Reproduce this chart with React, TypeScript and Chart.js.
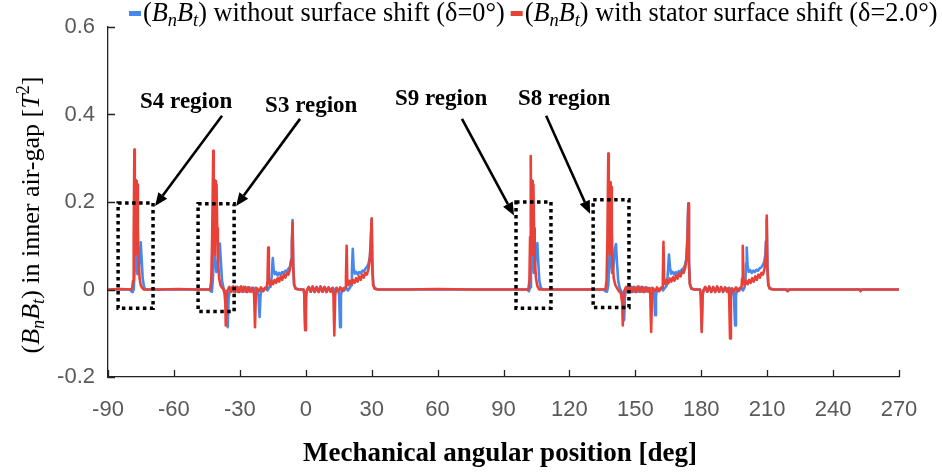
import { useEffect, useRef } from "react";
import { Chart, registerables } from "chart.js";

Chart.register(...registerables);

// Mechanical angle [deg] and (Bn·Bt) [T^2] samples, stator surface shifted (δ = 2.0°)
const shiftedSeries: [number, number][] = [
  [-90, 0], [-84, 0.001], [-80, 0], [-79, 0.002], [-78.6, 0.02], [-78.3, 0.12], [-78.0, 0.32], [-77.8, 0.1],
  [-77.5, 0.25], [-77.3, 0.08], [-77.1, 0.248], [-76.9, 0.12], [-76.7, 0.24], [-76.4, 0.14], [-76.1, 0.07],
  [-75.6, 0.025], [-75.1, 0.01], [-74.5, 0.004], [-73.8, 0],
  [-66, 0], [-58, 0.001], [-50, 0], [-43.5, 0], [-43.0, 0.02], [-42.6, 0.12], [-42.1, 0.317], [-41.9, 0.1],
  [-41.6, 0.25], [-41.4, 0.08], [-41.1, 0.248], [-40.9, 0.12], [-40.6, 0.24], [-40.3, 0.14], [-40.0, 0.07],
  [-39.4, 0.025], [-38.8, 0.01], [-38.1, 0.004], [-37.6, 0.002],
  [-37.0, -0.008], [-36.6, -0.03], [-36.4, -0.082], [-36.1, -0.02], [-35.7, -0.003],
  [-34.8, 0.006], [-33.9, -0.005], [-33.0, 0.007], [-32.1, -0.006], [-31.2, 0.006], [-30.3, -0.006], [-29.4, 0.007],
  [-28.5, -0.005], [-27.6, 0.006], [-26.7, -0.006], [-25.8, 0.005], [-24.9, -0.005], [-24.1, 0.004], [-23.5, -0.012],
  [-23.1, -0.086], [-22.7, -0.012], [-22.2, 0.003], [-21.3, -0.004], [-20.4, 0.005], [-19.5, -0.004], [-18.6, 0.004],
  [-17.8, 0.002], [-17.4, 0.02], [-17.1, 0.096], [-16.8, 0.025], [-16.3, 0.01], [-15.6, 0.02], [-14.9, 0.012],
  [-14.2, 0.022], [-13.5, 0.015], [-12.8, 0.026], [-12.1, 0.018], [-11.4, 0.03], [-10.7, 0.022], [-10.0, 0.034],
  [-9.3, 0.027], [-8.6, 0.038], [-7.9, 0.034], [-7.2, 0.046], [-6.6, 0.065], [-6.3, 0.1], [-6.0, 0.153], [-5.7, 0.05],
  [-5.3, 0.01], [-4.6, 0.002], [-3, 0], [-1.0, 0], [-0.7, -0.01], [-0.3, -0.093], [0.1, -0.015], [0.5, -0.002],
  [1.3, 0.006], [2.2, -0.005], [3.1, 0.007], [4.0, -0.006], [4.9, 0.006], [5.8, -0.006], [6.7, 0.007], [7.6, -0.005],
  [8.5, 0.006], [9.4, -0.006], [10.3, 0.005], [11.2, -0.005], [12.0, 0.003], [12.6, -0.012], [13.0, -0.105],
  [13.4, -0.012], [13.9, 0.003], [14.8, -0.004], [15.7, 0.005], [16.6, -0.004], [17.5, 0.004], [18.0, 0.004],
  [18.3, 0.025], [18.6, 0.1], [18.9, 0.025], [19.4, 0.01], [20.1, 0.02], [20.8, 0.012], [21.5, 0.022], [22.2, 0.015],
  [22.9, 0.026], [23.6, 0.018], [24.3, 0.03], [25.0, 0.022], [25.7, 0.034], [26.4, 0.027], [27.1, 0.038], [27.8, 0.034],
  [28.5, 0.046], [29.1, 0.065], [29.5, 0.1], [30.0, 0.163], [30.3, 0.05], [30.7, 0.01], [31.4, 0.002], [33, 0],
  [45, 0], [60, 0.001], [75, 0], [90, 0], [101.3, 0], [101.8, 0.02], [102.1, 0.12], [102.4, 0.305], [102.6, 0.1],
  [102.8, 0.25], [103.0, 0.08], [103.2, 0.248], [103.4, 0.12], [103.6, 0.24], [103.9, 0.14], [104.2, 0.07],
  [104.8, 0.025], [105.4, 0.008], [106.3, 0],
  [120, 0], [136.4, 0], [136.9, 0.02], [137.3, 0.12], [137.7, 0.311], [137.9, 0.1], [138.2, 0.245], [138.4, 0.08],
  [138.6, 0.245], [138.8, 0.12], [139.0, 0.235], [139.3, 0.14], [139.6, 0.07], [140.2, 0.025], [140.9, 0.01],
  [141.8, 0.002], [142.6, -0.004], [143.4, -0.008],
  [144.0, -0.03], [144.3, -0.082], [144.6, -0.02], [145.0, -0.003],
  [145.8, 0.006], [146.7, -0.005], [147.6, 0.007], [148.5, -0.006], [149.4, 0.006], [150.3, -0.006], [151.2, 0.007],
  [152.1, -0.005], [153.0, 0.006], [153.9, -0.006], [154.8, 0.005], [155.7, -0.005], [156.4, 0.003], [156.8, -0.012],
  [157.2, -0.097], [157.6, -0.012], [158.1, 0.003], [159.0, -0.004], [159.9, 0.005], [160.8, -0.004], [161.7, 0.004],
  [162.2, 0.004], [162.5, 0.025], [162.8, 0.109], [163.1, 0.025], [163.6, 0.012], [164.3, 0.022], [165.0, 0.014],
  [165.7, 0.025], [166.4, 0.018], [167.1, 0.028], [167.8, 0.02], [168.5, 0.032], [169.2, 0.025], [169.9, 0.036],
  [170.6, 0.03], [171.3, 0.042], [172.0, 0.038], [172.7, 0.05], [173.3, 0.07], [173.7, 0.11], [174.1, 0.197],
  [174.4, 0.06], [174.8, 0.012], [175.5, 0.002], [177, 0], [179.4, 0], [179.8, -0.012], [180.2, -0.097],
  [180.6, -0.015], [181.0, -0.002],
  [181.8, 0.006], [182.7, -0.005], [183.6, 0.007], [184.5, -0.006], [185.4, 0.006], [186.3, -0.006], [187.2, 0.007],
  [188.1, -0.005], [189.0, 0.006], [189.9, -0.006], [190.8, 0.005], [191.7, -0.005], [192.3, 0.003], [192.7, -0.014],
  [193.1, -0.112], [193.5, -0.014], [194.0, 0.003], [194.9, -0.004], [195.8, 0.005], [196.7, -0.004], [197.6, 0.004],
  [198.3, 0.004], [198.6, 0.025], [198.9, 0.1], [199.2, 0.025], [199.7, 0.01], [200.4, 0.02], [201.1, 0.012],
  [201.8, 0.022], [202.5, 0.015], [203.2, 0.026], [203.9, 0.018], [204.6, 0.03], [205.3, 0.022], [206.0, 0.034],
  [206.7, 0.027], [207.4, 0.038], [208.1, 0.034], [208.8, 0.048], [209.3, 0.07], [209.5, 0.11], [209.8, 0.169],
  [210.1, 0.05], [210.5, 0.01], [211.2, 0.002], [213, 0], [218.5, 0], [219.3, -0.004], [220.2, 0], [240, 0],
  [252, 0], [252.5, -0.004], [253.2, 0], [270, 0],
];

// Same quantity without surface shift (δ = 0°)
const unshiftedSeries: [number, number][] = [
  [-90, 0], [-84, 0], [-80, 0], [-79.4, -0.004], [-78.8, -0.006], [-78.3, 0.0], [-77.9, 0.04], [-77.4, 0.119],
  [-77.0, 0.07], [-76.6, 0.035], [-76.0, 0.045], [-75.5, 0.08], [-75.1, 0.108], [-74.7, 0.07], [-74.2, 0.025],
  [-73.6, 0.006], [-73.0, 0],
  [-60, 0], [-44, 0], [-43.3, -0.004], [-42.7, -0.005], [-42.2, 0.03], [-41.6, 0.121], [-41.2, 0.07], [-40.7, 0.04],
  [-40.1, 0.05], [-39.6, 0.085], [-39.1, 0.105], [-38.7, 0.07], [-38.1, 0.02], [-37.4, 0.003], [-36.6, -0.006],
  [-36.0, -0.02], [-35.5, -0.086], [-35.1, -0.02], [-34.6, -0.003],
  [-33.7, 0.005], [-32.8, -0.005], [-31.9, 0.006], [-31.0, -0.005], [-30.1, 0.005], [-29.2, -0.005], [-28.3, 0.006],
  [-27.4, -0.005], [-26.5, 0.005], [-25.6, -0.005], [-24.7, 0.004], [-23.8, -0.004], [-22.9, 0.004], [-22.0, -0.004],
  [-21.5, -0.015], [-21.0, -0.063], [-20.6, -0.015], [-20.1, 0.002], [-19.2, -0.003], [-18.3, 0.004], [-17.4, -0.002],
  [-16.6, 0.005], [-16.0, 0.006], [-15.5, 0.03], [-15.0, 0.072], [-14.6, 0.045], [-14.1, 0.035], [-13.5, 0.04],
  [-12.8, 0.032], [-12.1, 0.038], [-11.4, 0.034], [-10.7, 0.04], [-10.0, 0.037], [-9.3, 0.043], [-8.6, 0.041],
  [-7.9, 0.048], [-7.2, 0.052], [-6.6, 0.07], [-6.3, 0.11], [-6.0, 0.159], [-5.7, 0.06], [-5.3, 0.012], [-4.6, 0.002],
  [-3, 0], [-1.0, 0], [-0.6, -0.01], [-0.2, -0.09], [0.2, -0.012], [0.6, -0.002],
  [1.5, 0.005], [2.4, -0.005], [3.3, 0.006], [4.2, -0.005], [5.1, 0.005], [6.0, -0.005], [6.9, 0.006], [7.8, -0.005],
  [8.7, 0.005], [9.6, -0.005], [10.5, 0.004], [11.4, -0.004], [12.3, 0.004], [13.2, -0.004], [14.1, 0.004],
  [14.9, -0.004], [15.2, -0.015], [15.6, -0.086], [16.0, -0.015], [16.5, 0.002], [17.4, -0.003], [18.3, 0.004],
  [19.2, -0.002], [20.1, 0.004], [20.6, 0.01], [21.0, 0.04], [21.4, 0.093], [21.8, 0.05], [22.3, 0.036], [23.0, 0.04],
  [23.7, 0.034], [24.4, 0.04], [25.1, 0.037], [25.8, 0.043], [26.5, 0.041], [27.2, 0.048], [27.9, 0.052], [28.6, 0.06],
  [29.2, 0.075], [29.6, 0.11], [30.0, 0.16], [30.3, 0.06], [30.7, 0.012], [31.4, 0.002], [33, 0],
  [60, 0], [90, 0], [100.8, 0], [101.6, -0.004], [102.1, 0.005], [102.5, 0.05], [102.9, 0.125], [103.3, 0.07],
  [103.8, 0.038], [104.3, 0.05], [104.9, 0.09], [105.4, 0.106], [105.8, 0.065], [106.3, 0.02], [107.0, 0.004], [108, 0],
  [125, 0], [135.6, 0], [136.4, -0.004], [137.1, -0.005], [137.7, 0.01], [138.1, 0.06], [138.5, 0.119], [138.9, 0.07],
  [139.4, 0.038], [140.0, 0.05], [140.6, 0.09], [141.2, 0.104], [141.6, 0.065], [142.2, 0.02], [142.9, 0.003],
  [143.8, -0.006], [144.4, -0.02], [144.9, -0.07], [145.3, -0.015], [145.8, -0.002],
  [146.6, 0.005], [147.5, -0.005], [148.4, 0.006], [149.3, -0.005], [150.2, 0.005], [151.1, -0.005], [152.0, 0.006],
  [152.9, -0.005], [153.8, 0.005], [154.7, -0.005], [155.6, 0.004], [156.5, -0.004], [157.4, 0.004], [158.2, -0.004],
  [158.6, -0.015], [159.0, -0.059], [159.4, -0.015], [159.9, 0.002], [160.8, -0.003], [161.7, 0.004], [162.6, -0.002],
  [163.5, 0.004], [164.2, 0.008], [164.7, 0.03], [165.3, 0.08], [165.8, 0.05], [166.3, 0.036], [167.0, 0.04],
  [167.7, 0.034], [168.4, 0.04], [169.1, 0.036], [169.8, 0.042], [170.5, 0.04], [171.2, 0.046], [171.9, 0.048],
  [172.6, 0.056], [173.2, 0.07], [173.7, 0.12], [174.1, 0.19], [174.4, 0.07], [174.8, 0.014], [175.5, 0.002], [177, 0],
  [179.4, 0], [179.8, -0.012], [180.2, -0.09], [180.6, -0.014], [181.0, -0.002],
  [181.9, 0.005], [182.8, -0.005], [183.7, 0.006], [184.6, -0.005], [185.5, 0.005], [186.4, -0.005], [187.3, 0.006],
  [188.2, -0.005], [189.1, 0.005], [190.0, -0.005], [190.9, 0.004], [191.8, -0.004], [192.7, 0.004], [193.6, -0.004],
  [194.5, -0.006], [194.9, -0.02], [195.4, -0.082], [195.8, -0.015], [196.3, 0.002], [197.2, -0.003], [198.1, 0.004],
  [199.0, -0.002], [199.7, 0.005], [200.1, 0.02], [200.4, 0.06], [200.7, 0.096], [201.1, 0.055], [201.6, 0.04],
  [202.3, 0.044], [203.0, 0.038], [203.7, 0.043], [204.4, 0.04], [205.1, 0.045], [205.8, 0.043], [206.5, 0.048],
  [207.2, 0.05], [207.9, 0.055], [208.6, 0.062], [209.2, 0.08], [209.5, 0.11], [209.8, 0.16], [210.1, 0.055],
  [210.5, 0.012], [211.2, 0.002], [213, 0], [240, 0], [270, 0],
];

// Slot regions: name, angular span [deg] and value span [T^2]
const regionNames = ["S4 region", "S3 region", "S9 region", "S8 region"];
const regionAngleSpans: [number, number][] = [[-85.4, -69.5], [-49, -32.6], [95.7, 111.6], [130.8, 147.1]];
const regionValueSpans: [number, number][] = [[-0.043, 0.198], [-0.05, 0.196], [-0.043, 0.2], [-0.041, 0.205]];

const X_MIN = -90;
const X_MAX = 270;
const X_STEP = 30;
const Y_MIN = -0.2;
const Y_MAX = 0.6;
const Y_STEP = 0.2;

const BLUE = "rgb(72, 136, 238)";
const RED = "rgb(232, 66, 56)";
const SERIF = '"Liberation Serif", "Times New Roman", serif';
const SANS = '"Liberation Sans", Arial, sans-serif';

type Seg = { t: string; it?: boolean; sub?: boolean; sup?: boolean };

const bnbt: Seg[] = [
  { t: "(" }, { t: "B", it: true }, { t: "n", it: true, sub: true },
  { t: "B", it: true }, { t: "t", it: true, sub: true }, { t: ")" },
];

function drawRich(ctx: CanvasRenderingContext2D, segs: Seg[], x: number, y: number, size: number, measureOnly = false) {
  let cx = x;
  for (const s of segs) {
    const small = s.sub || s.sup;
    const fs = small ? size * 0.7 : size;
    ctx.font = `${s.it ? "italic " : ""}${fs}px ${SERIF}`;
    const dy = s.sub ? size * 0.2 : s.sup ? -size * 0.38 : 0;
    if (!measureOnly) ctx.fillText(s.t, cx, y + dy);
    cx += ctx.measureText(s.t).width;
  }
  return cx - x;
}

// Label anchor, arrow tail and arrow head for each region, in axis units
const labelAnchors: [number, number][] = [[-75.4, 0.415], [-18.5, 0.406], [40.6, 0.422], [96.6, 0.422]];
const arrowTails: [number, number][] = [[-38.1, 0.397], [-2.6, 0.39], [71.1, 0.39], [109.4, 0.397]];
const arrowHeads: [number, number][] = [[-68.6, 0.191], [-31.7, 0.191], [94.8, 0.169], [129.4, 0.173]];

const decorations = {
  id: "decorations",
  afterDatasetsDraw(chart: any) {
    const { ctx, chartArea, scales } = chart;
    const xs = scales.x;
    const ys = scales.y;
    ctx.save();

    // inward tick marks
    ctx.strokeStyle = "#222";
    ctx.lineWidth = 1.3;
    ctx.beginPath();
    for (const t of xs.ticks) {
      const px = Math.round(xs.getPixelForValue(t.value)) + 0.5;
      ctx.moveTo(px, chartArea.bottom);
      ctx.lineTo(px, chartArea.bottom - 7);
    }
    for (const t of ys.ticks) {
      const py = Math.round(ys.getPixelForValue(t.value)) + 0.5;
      ctx.moveTo(chartArea.left, py);
      ctx.lineTo(chartArea.left + 7, py);
    }
    ctx.stroke();

    // dotted region boxes
    ctx.strokeStyle = "#000";
    ctx.lineWidth = 3.5;
    ctx.setLineDash([3.5, 3.5]);
    regionAngleSpans.forEach(([a0, a1], i) => {
      const [v0, v1] = regionValueSpans[i];
      const x0 = xs.getPixelForValue(a0);
      const x1 = xs.getPixelForValue(a1);
      const y0 = ys.getPixelForValue(v1);
      const y1 = ys.getPixelForValue(v0);
      ctx.strokeRect(x0, y0, x1 - x0, y1 - y0);
    });
    ctx.setLineDash([]);

    // arrows and region labels
    ctx.fillStyle = "#000";
    ctx.lineWidth = 2.6;
    arrowTails.forEach(([ta, tv], i) => {
      const [ha, hv] = arrowHeads[i];
      const x0 = xs.getPixelForValue(ta);
      const y0 = ys.getPixelForValue(tv);
      const x1 = xs.getPixelForValue(ha);
      const y1 = ys.getPixelForValue(hv);
      const ang = Math.atan2(y1 - y0, x1 - x0);
      const headLen = 13;
      const headHalf = 5.5;
      const bx = x1 - headLen * Math.cos(ang);
      const by = y1 - headLen * Math.sin(ang);
      ctx.beginPath();
      ctx.moveTo(x0, y0);
      ctx.lineTo(bx, by);
      ctx.stroke();
      ctx.beginPath();
      ctx.moveTo(x1, y1);
      ctx.lineTo(bx + headHalf * Math.sin(ang), by - headHalf * Math.cos(ang));
      ctx.lineTo(bx - headHalf * Math.sin(ang), by + headHalf * Math.cos(ang));
      ctx.closePath();
      ctx.fill();
    });
    ctx.font = `bold 23px ${SERIF}`;
    ctx.textBaseline = "alphabetic";
    ctx.textAlign = "left";
    labelAnchors.forEach(([a, v], i) => {
      ctx.fillText(regionNames[i], xs.getPixelForValue(a), ys.getPixelForValue(v));
    });
    ctx.restore();
  },
  afterDraw(chart: any) {
    const { ctx, chartArea } = chart;
    ctx.save();
    ctx.fillStyle = "#000";
    ctx.textBaseline = "alphabetic";
    ctx.textAlign = "left";

    // y-axis title, rotated
    const ySegs: Seg[] = [...bnbt, { t: " in inner air-gap [" }, { t: "T", it: true }, { t: "2", sup: true }, { t: "]" }];
    const yw = drawRich(ctx, ySegs, 0, 0, 26, true);
    ctx.save();
    ctx.translate(39, (chartArea.top + chartArea.bottom) / 2 + 13);
    ctx.rotate(-Math.PI / 2);
    drawRich(ctx, ySegs, -yw / 2, 0, 26);
    ctx.restore();

    // x-axis title
    ctx.font = `bold 27px ${SERIF}`;
    ctx.textAlign = "center";
    ctx.fillText("Mechanical angular position [deg]", 500, 461);
    ctx.textAlign = "left";

    // legend
    const legendY = 21;
    let lx = 129;
    const items: [string, string][] = [
      [BLUE, " without surface shift (δ=0°)"],
      [RED, " with stator surface shift (δ=2.0°)"],
    ];
    for (const [color, text] of items) {
      ctx.fillStyle = color;
      ctx.fillRect(lx, legendY - 10, 12, 5);
      lx += 14;
      ctx.fillStyle = "#000";
      lx += drawRich(ctx, [...bnbt, { t: text }], lx, legendY, 26.3);
      lx += 6;
    }
    ctx.restore();
  },
};

export default function App() {
  const canvasRef = useRef<HTMLCanvasElement>(null);

  useEffect(() => {
    const canvas = canvasRef.current;
    if (!canvas) return;
    const chart = new Chart(canvas, {
      type: "line",
      data: {
        datasets: [
          {
            label: "(BnBt) with stator surface shift (δ=2.0°)",
            data: shiftedSeries.map(([a, v]) => ({ x: a, y: v })),
            borderColor: RED,
            borderWidth: 2.6,
            pointRadius: 0,
            tension: 0,
            order: 1,
          },
          {
            label: "(BnBt) without surface shift (δ=0°)",
            data: unshiftedSeries.map(([a, v]) => ({ x: a, y: v })),
            borderColor: BLUE,
            borderWidth: 2.6,
            pointRadius: 0,
            tension: 0,
            order: 2,
          },
        ],
      },
      options: {
        responsive: false,
        animation: false,
        devicePixelRatio: 1,
        layout: { padding: { top: 27, right: 43, left: 0, bottom: 0 } },
        plugins: { legend: { display: false }, tooltip: { enabled: false }, title: { display: false } },
        elements: { line: { borderJoinStyle: "round", borderCapStyle: "round" } },
        scales: {
          x: {
            type: "linear",
            min: X_MIN,
            max: X_MAX,
            grid: { display: false, drawTicks: false },
            border: { display: true, color: "#222", width: 1.3 },
            ticks: {
              stepSize: X_STEP,
              autoSkip: false,
              maxRotation: 0,
              padding: 20,
              color: "#595959",
              font: { family: SANS, size: 22 },
            },
            afterFit: (s: any) => { s.height = 96; },
          },
          y: {
            type: "linear",
            min: Y_MIN,
            max: Y_MAX,
            grid: { display: false, drawTicks: false },
            border: { display: true, color: "#222", width: 1.3 },
            ticks: {
              stepSize: Y_STEP,
              padding: 13,
              color: "#595959",
              font: { family: SANS, size: 22 },
              callback: (v: any) => {
                const r = Math.round(Number(v) * 10) / 10;
                return r === 0 ? "0" : String(r);
              },
            },
            afterFit: (s: any) => { s.width = 108; },
          },
        },
      },
      plugins: [decorations],
    });
    return () => chart.destroy();
  }, []);

  return (
    <div style={{ position: "fixed", left: 0, top: 0, width: 942, height: 473, background: "#fff" }}>
      <canvas ref={canvasRef} width={942} height={473} style={{ display: "block", width: 942, height: 473 }} />
    </div>
  );
}
